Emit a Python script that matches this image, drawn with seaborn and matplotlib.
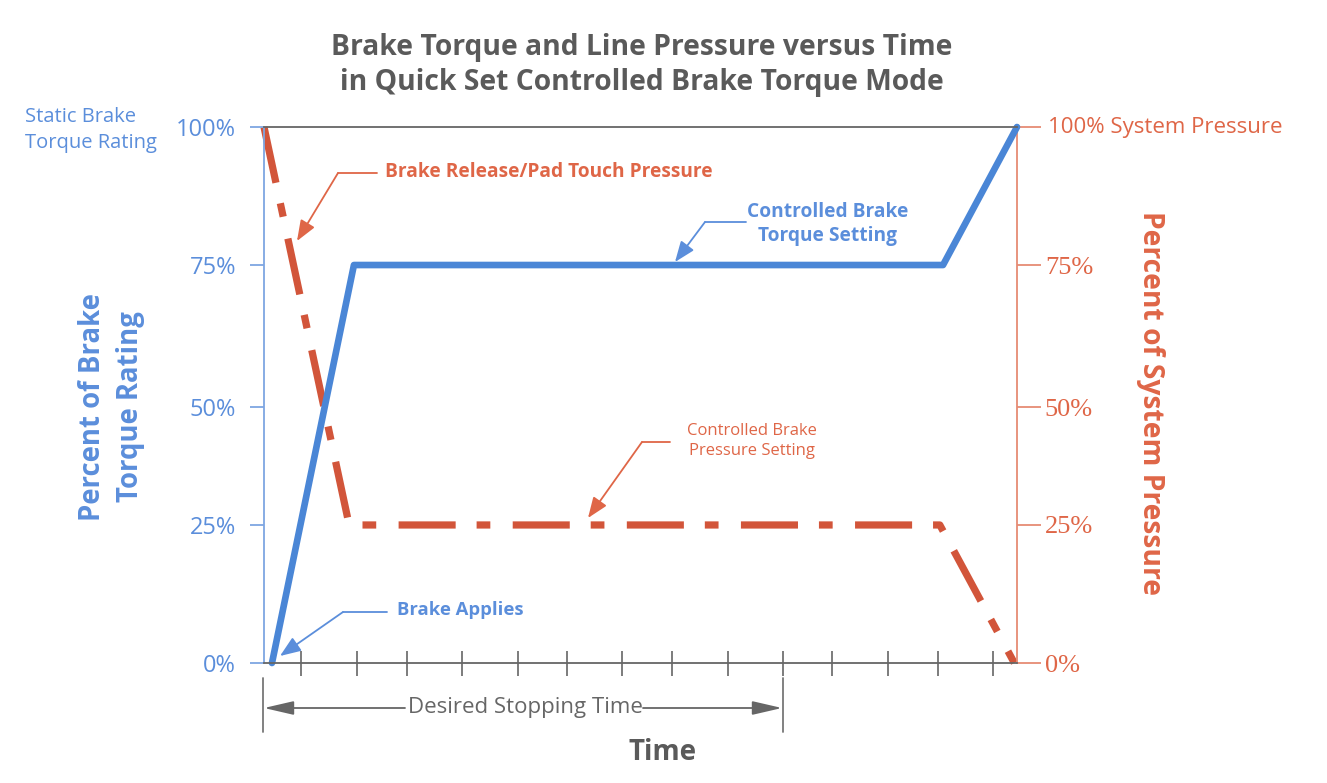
import numpy as np
import pandas as pd
import matplotlib
matplotlib.use('Agg')
import matplotlib.pyplot as plt
from matplotlib.lines import Line2D
import seaborn as sns

# значения
time_torque = [0.15, 1.69, 12.76, 14.15]
torque_pct = [0, 75, 75, 100]
time_press = [0.0, 1.6, 12.7, 14.1]
press_pct = [100, 25, 25, 0]
time_ticks = [0.7, 1.75, 2.68, 3.72, 4.77, 5.7, 6.73, 7.67, 8.72, 9.76, 10.68, 11.73, 12.67, 13.7]
pct_ticks = [0, 25, 50, 75, 100]
left_labels = ['0%', '25%', '50%', '75%', '100%']
right_labels = ['0%', '25%', '50%', '75%', '']
# на оригинале шкала чуть неравномерная
pct_drawn = [0, 25.75, 47.76, 74.25, 100]

W, H = 1327, 783
BLUE = '#4a86d6'
BLUE_T = '#5b8edb'
BLUE_AX = '#7ea6e2'
RED = '#d2553a'
RED_T = '#df6647'
RED_AX = '#e68b74'
GRAY = '#5a5a5a'

sns.set_style('white')
plt.rcParams['font.family'] = ['Open Sans', 'DejaVu Sans']


def ff(x, y):
    # пиксели картинки -> доли фигуры
    return (x / W, 1 - y / H)


def fwd(v):
    return np.interp(v, pct_ticks, pct_drawn)


def inv(v):
    return np.interp(v, pct_drawn, pct_ticks)


fig = plt.figure(figsize=(W / 100, H / 100), dpi=100)
ax = fig.add_axes([264 / W, 1 - 663 / H, 753 / W, 536 / H])
ax2 = ax.twinx()

torque = pd.DataFrame({'time': time_torque, 'pct': torque_pct})
press = pd.DataFrame({'time': time_press, 'pct': press_pct})

sns.lineplot(data=press, x='time', y='pct', ax=ax2, color=RED, lw=5.2,
             linestyle=(0, (7.9, 2.9, 1.9, 3.1)), estimator=None, sort=False,
             clip_on=False, solid_capstyle='butt', dash_capstyle='butt')
sns.lineplot(data=torque, x='time', y='pct', ax=ax, color=BLUE, lw=4.8,
             estimator=None, sort=False, clip_on=False, solid_joinstyle='round')
ax.set_zorder(ax2.get_zorder() + 1)
ax.patch.set_visible(False)

for a in (ax, ax2):
    a.set_yscale('function', functions=(fwd, inv))
    a.set_ylim(0, 100)
    a.set_xlim(0, 14.15)
    a.set_xlabel('')
    a.set_ylabel('')
    for s in a.spines.values():
        s.set_visible(False)

ax.spines['left'].set_visible(True)
ax.spines['left'].set_color(BLUE_AX)
ax.spines['left'].set_linewidth(1.3)
ax.spines['top'].set_visible(True)
ax.spines['top'].set_color('#666666')
ax.spines['top'].set_linewidth(1.3)
ax.spines['bottom'].set_visible(True)
ax.spines['bottom'].set_color('#666666')
ax.spines['bottom'].set_linewidth(1.3)
ax2.spines['right'].set_visible(True)
ax2.spines['right'].set_color(RED_AX)
ax2.spines['right'].set_linewidth(1.3)

ax.set_xticks(time_ticks)
ax.set_xticklabels([])
ax.tick_params(axis='x', direction='inout', length=18, width=1.2, color='#666666', bottom=True)
ax.set_yticks(pct_ticks)
ax.set_yticklabels(left_labels)
ax.tick_params(axis='y', direction='out', length=10, width=1.3, color=BLUE_AX,
               labelcolor=BLUE_T, labelsize=17, pad=10, left=True)
ax.yaxis.set_minor_locator(plt.NullLocator())

ax2.set_yticks(pct_ticks)
ax2.set_yticklabels(right_labels, family=['Liberation Serif', 'DejaVu Serif'])
ax2.tick_params(axis='y', direction='out', length=17, width=1.3, color=RED_AX,
                labelcolor=RED_T, labelsize=19, pad=3, right=True)
ax2.yaxis.set_minor_locator(plt.NullLocator())

# подписи осей
ax.set_ylabel('Percent of Brake\nTorque Rating', color=BLUE_T, fontsize=19.8,
              fontweight='bold', linespacing=1.42, va='center')
ax.yaxis.set_label_coords(-0.203, 0.478)
ax2.set_ylabel('Percent of System Pressure', color=RED_T, fontsize=20.3,
               fontweight='bold', rotation=270, va='center')
ax2.yaxis.set_label_coords(1.177, 0.485)

fig.text(*ff(642, 65), 'Brake Torque and Line Pressure versus Time\nin Quick Set Controlled Brake Torque Mode',
         ha='center', va='center', fontsize=20.3, fontweight='bold', color=GRAY, linespacing=1.29)
fig.text(*ff(25, 130), 'Static Brake\nTorque Rating', ha='left', va='center',
         fontsize=14.5, color=BLUE_T, linespacing=1.41)
fig.text(*ff(1048, 127), '100% System Pressure', ha='left', va='center',
         fontsize=16, color=RED_T)
fig.text(*ff(663, 752), 'Time', ha='center', va='center', fontsize=20,
         fontweight='bold', color=GRAY)

# выноски
def leader(p_start, p_elbow, p_tip, color):
    fig.add_artist(Line2D([ff(*p_start)[0], ff(*p_elbow)[0]],
                          [ff(*p_start)[1], ff(*p_elbow)[1]],
                          transform=fig.transFigure, color=color, lw=1.3))
    ax.annotate('', xy=ff(*p_tip), xycoords='figure fraction',
                xytext=ff(*p_elbow), textcoords='figure fraction',
                arrowprops=dict(arrowstyle='-|>,head_length=0.9,head_width=0.35',
                                color=color, lw=1.3, shrinkA=0, shrinkB=0,
                                mutation_scale=14))


fig.text(*ff(385, 172), 'Brake Release/Pad Touch Pressure', ha='left', va='center',
         fontsize=13.8, fontweight='bold', color=RED_T)
leader((377, 173), (338, 173), (297, 241), RED_T)

fig.text(*ff(828, 224), 'Controlled Brake\nTorque Setting', ha='center', va='center',
         fontsize=13.8, fontweight='bold', color=BLUE_T, linespacing=1.32)
leader((746, 222), (705, 222), (675, 262), BLUE_T)

fig.text(*ff(752, 441), 'Controlled Brake\nPressure Setting', ha='center', va='center',
         fontsize=12, color=RED_T, linespacing=1.39)
leader((670, 442), (642, 442), (588, 518), RED_T)

fig.text(*ff(397, 610), 'Brake Applies', ha='left', va='center',
         fontsize=13.3, fontweight='bold', color=BLUE_T)
leader((387, 612), (343, 612), (280, 656), BLUE_T)

# желаемое время остановки
for xp in (263, 783):
    fig.add_artist(Line2D([ff(xp, 678)[0]] * 2, [ff(xp, 678)[1], ff(xp, 732)[1]],
                          transform=fig.transFigure, color='#777777', lw=1.3))
for a_from, a_to in (((405, 708), (264, 708)), ((643, 708), (782, 708))):
    ax.annotate('', xy=ff(*a_to), xycoords='figure fraction',
                xytext=ff(*a_from), textcoords='figure fraction',
                arrowprops=dict(arrowstyle='-|>,head_length=1.3,head_width=0.3',
                                color='#666666', lw=1.3, shrinkA=0, shrinkB=0,
                                mutation_scale=14))
fig.text(*ff(525, 708), 'Desired Stopping Time', ha='center', va='center',
         fontsize=16, color='#666666')

fig.savefig('out.png', dpi=100, facecolor='white')
